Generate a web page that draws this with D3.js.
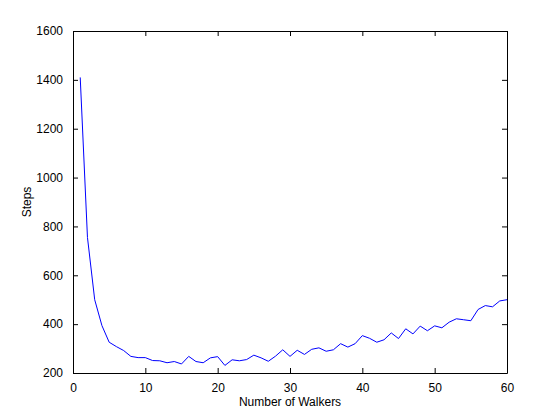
<!DOCTYPE html>
<html>
<head>
<meta charset="utf-8">
<script src="https://cdn.jsdelivr.net/npm/d3@7"></script>
<style>
html,body{margin:0;padding:0;background:#fff;}
svg{display:block;}
text{font-family:"Liberation Sans",Arial,sans-serif;font-size:12px;fill:#000;}
</style>
</head>
<body>
<svg id="chart" width="560" height="419"></svg>
<script>
const walkers = d3.range(1, 61);
const steps = [1410, 755, 500, 394, 326, 308, 292, 268, 263, 263,
               251, 250, 242, 247, 237, 268, 247, 242, 262, 267,
               231, 254, 250, 255, 273, 262, 248, 269, 295, 268,
               293, 276, 297, 303, 289, 295, 320, 306, 320, 353,
               342, 326, 336, 364, 341, 381, 360, 392, 373, 393,
               385, 408, 422, 418, 414, 460, 476, 471, 495, 500];
const xTicks = [0, 10, 20, 30, 40, 50, 60];
const yTicks = [200, 400, 600, 800, 1000, 1200, 1400, 1600];
const xLabel = "Number of Walkers";
const yLabel = "Steps";

const mLeft = 73, mRight = 507, mTop = 31, mBottom = 373;
const svg = d3.select("#chart");
const x = d3.scaleLinear().domain([0, 60]).range([mLeft, mRight]);
const y = d3.scaleLinear().domain([200, 1600]).range([mBottom, mTop]);
const tl = 5;

// Data line
const data = walkers.map((w, i) => [w, steps[i]]);
svg.append("path")
  .datum(data)
  .attr("fill", "none")
  .attr("stroke", "#0000ff")
  .attr("stroke-width", 1)
  .attr("d", d3.line().x(d => x(d[0])).y(d => y(d[1])));

// Axes (MATLAB style, ticks inward)
const axB = svg.append("g").attr("transform", `translate(0,${mBottom})`)
  .call(d3.axisBottom(x).tickValues(xTicks).tickSizeInner(-tl).tickSizeOuter(0).tickPadding(tl + 5).tickFormat(d3.format("d")));
const axT = svg.append("g").attr("transform", `translate(0,${mTop})`)
  .call(d3.axisTop(x).tickValues(xTicks).tickSizeInner(-tl).tickSizeOuter(0).tickFormat(""));
const axL = svg.append("g").attr("transform", `translate(${mLeft},0)`)
  .call(d3.axisLeft(y).tickValues(yTicks).tickSizeInner(-tl).tickSizeOuter(0).tickPadding(tl + 5).tickFormat(d3.format("d")));
const axR = svg.append("g").attr("transform", `translate(${mRight},0)`)
  .call(d3.axisRight(y).tickValues(yTicks).tickSizeInner(-tl).tickSizeOuter(0).tickFormat(""));

[axB, axT, axL, axR].forEach(g => {
  g.selectAll("path.domain").attr("stroke", "#000").attr("stroke-width", 1);
  g.selectAll("line").attr("stroke", "#000");
  g.selectAll("text").attr("font-family", "Liberation Sans, Arial, sans-serif").attr("font-size", 12).attr("fill", "#000");
});

svg.append("text")
  .attr("x", (mLeft + mRight) / 2)
  .attr("y", 406)
  .attr("text-anchor", "middle")
  .text(xLabel);

svg.append("text")
  .attr("transform", `translate(31,${(mTop + mBottom) / 2}) rotate(-90)`)
  .attr("text-anchor", "middle")
  .text(yLabel);
</script>
</body>
</html>
